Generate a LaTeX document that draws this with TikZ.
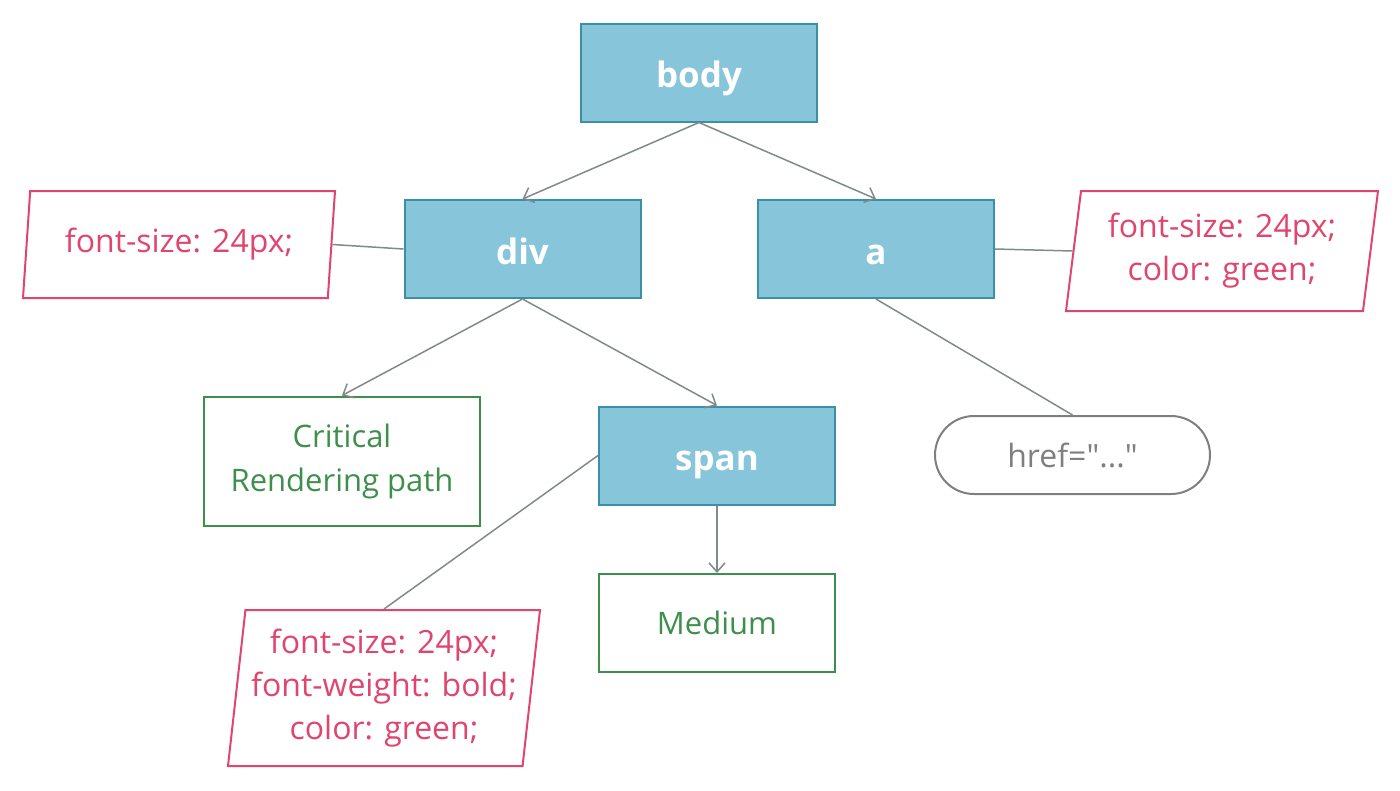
\documentclass[tikz,border=0pt]{standalone}
\usepackage{fontspec}
\setmainfont{Open Sans}
\newfontfamily\plainfont{Open Sans}
\usetikzlibrary{shapes.geometric,arrows.meta}
\definecolor{boxfill}{HTML}{86C5DA}
\definecolor{boxline}{HTML}{3A8FA9}
\definecolor{pinkc}{HTML}{E0456E}
\definecolor{greenc}{HTML}{3F8F4C}
\definecolor{linec}{HTML}{808A8A}
\definecolor{pillc}{HTML}{7F7F7F}
\tikzset{
  elem/.style={draw=boxline, fill=boxfill, line width=2pt, minimum width=236pt, minimum height=98pt, inner sep=0pt, text=white, text height=34pt, text depth=4pt, font=\fontsize{35}{40}\selectfont\bfseries},
  textbox/.style={draw=greenc, line width=2pt, minimum width=276pt, inner sep=0pt, text=greenc, align=center, font=\fontsize{31}{44}\selectfont},
  css/.style={trapezium, trapezium stretches body, draw=pinkc, line width=2pt, minimum width=312pt, inner sep=0pt, text=pinkc, align=center, font=\fontsize{32}{43}\selectfont},
  slant/.style={trapezium left angle=#1, trapezium right angle={180-#1}},
  attr/.style={draw=pillc, line width=2pt, rounded corners=39pt, minimum width=275pt, minimum height=78pt, inner sep=0pt, text=pillc, font=\plainfont\fontsize{32}{43}\selectfont},
  conn/.style={draw=linec, line width=1.5pt},
  arr/.style={conn, -{Straight Barb[length=9pt, width=16pt, line width=1.5pt]}},
}
\begin{document}
\begin{tikzpicture}[x=1pt, y=-1pt]
\useasboundingbox (0,0) rectangle (1400,790);
\node[elem] (body) at (699,72.5) {body};
\node[elem] (div) at (522.5,249) {div};
\node[elem] (a) at (876,249) {a};
\node[css, slant=77.4, minimum height=107pt] (cssdiv) at (179,244.5) {font-size: 24px;};
\node[css, slant=78.7, minimum height=120pt] (cssa) at (1222,251) {font-size: 24px;\\color: green;};
\node[textbox, minimum height=129pt] (crit) at (342,461) {Critical\\Rendering path};
\node[elem] (span) at (717,455.5) {span};
\node[attr] (href) at (1072.5,455) {href="..."};
\node[textbox, minimum width=236pt, minimum height=98pt] (medium) at (717,623) {Medium};
\node[css, slant=81.6, minimum height=156pt] (cssspan) at (384,688) {font-size: 24px;\\font-weight: bold;\\color: green;};
\draw[arr] (body.south) -- (div.north);
\draw[arr] (body.south) -- (a.north);
\draw[conn] (cssdiv.east) -- (div.west);
\draw[conn] (a.east) -- (cssa.west);
\draw[arr] (div.south) -- (crit.north);
\draw[arr] (div.south) -- (span.north);
\draw[conn] (a.south) -- (href.north);
\draw[conn] (span.west) -- (cssspan.north);
\draw[arr] (span.south) -- (medium.north);
\end{tikzpicture}
\end{document}
